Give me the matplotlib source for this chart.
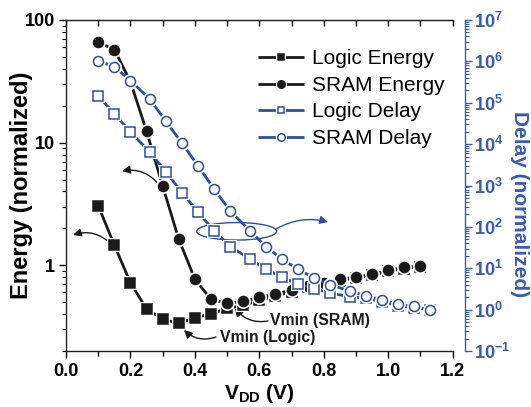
import matplotlib
matplotlib.use('Agg')
import numpy as np
import matplotlib.pyplot as plt
from matplotlib.patches import Ellipse
from matplotlib.ticker import LogLocator, FixedLocator, NullFormatter, MultipleLocator, FuncFormatter
from matplotlib.legend_handler import HandlerTuple

plt.rcParams['font.family'] = ['Liberation Sans', 'DejaVu Sans']
plt.rcParams['font.weight'] = 'bold'
plt.rcParams['mathtext.fontset'] = 'custom'
plt.rcParams['mathtext.rm'] = 'Liberation Sans'
plt.rcParams['mathtext.bf'] = 'Liberation Sans:bold'
plt.rcParams['mathtext.it'] = 'Liberation Sans:italic'

# ---------------- data ----------------
vdd_energy = [0.10, 0.15, 0.20, 0.25, 0.30, 0.35, 0.40, 0.45, 0.50, 0.55, 0.60,
              0.65, 0.70, 0.75, 0.80, 0.85, 0.90, 0.95, 1.00, 1.05, 1.10]
logic_energy = [3.06, 1.46, 0.72, 0.44, 0.364, 0.336, 0.373, 0.402, 0.445, 0.47, 0.52,
                0.56, 0.61, 0.66, 0.70, 0.75, 0.79, 0.83, 0.89, 0.94, 0.97]
sram_energy = [65.8, 57.3, 31.4, 12.4, 4.43, 1.63, 0.77, 0.527, 0.489, 0.508, 0.547,
               0.582, 0.628, 0.677, 0.72, 0.771, 0.80, 0.843, 0.908, 0.962, 0.985]

vdd_delay = [0.10, 0.15, 0.20, 0.26, 0.31, 0.36, 0.41, 0.46, 0.51, 0.57, 0.62,
             0.67, 0.72, 0.77, 0.82, 0.88, 0.93, 0.98, 1.03, 1.08, 1.13]
logic_delay = [1.44e5, 5.46e4, 1.94e4, 6.48e3, 2.13e3, 675, 226, 80, 33.4, 16.9, 9.5,
               6.1, 4.13, 3.24, 2.5, 2.07, 1.89, 1.57, 1.24, 1.12, 0.99]
sram_delay = [1.02e6, 7.45e5, 3.42e5, 1.22e5, 3.57e4, 1.05e4, 2.97e3, 815, 239, 81.5, 33.4,
              16.6, 9.5, 5.77, 3.97, 2.84, 2.15, 1.73, 1.36, 1.19, 0.99]

series_labels = ['Logic Energy', 'SRAM Energy', 'Logic Delay', 'SRAM Delay']
x_ticks = [0.0, 0.2, 0.4, 0.6, 0.8, 1.0, 1.2]
energy_ticks = [1, 10, 100]

BLACK = '#1a1a1a'
BLUE = '#2c4fa3'
AXBLUE = '#3a5cb0'

fig = plt.figure(figsize=(5.31, 4.07), dpi=100)
ax = fig.add_axes([66/531, 1-351/407, (452.7-66)/531, (351-20)/407])
ax2 = ax.twinx()
ax2.patch.set_visible(False)


def series(a, x, y, marker, color, ms, filled, z):
    ln, = a.plot(x, y, '-', color=color, lw=2.0, zorder=z, solid_capstyle='butt')
    halo, = a.plot(x, y, linestyle='none', marker=marker, ms=ms + 3.5,
                   mfc='white', mec='white', mew=0, zorder=z + 0.1)
    mk, = a.plot(x, y, linestyle='none', marker=marker, ms=ms,
                 mfc=color if filled else 'white', mec=color, mew=1.1, zorder=z + 0.2)
    return (ln, halo, mk)


h1 = series(ax, vdd_energy, logic_energy, 's', BLACK, 6.5, True, 3)
h2 = series(ax, vdd_energy, sram_energy, 'o', BLACK, 7.2, True, 4)
h3 = series(ax2, vdd_delay, logic_delay, 's', BLUE, 6.7, False, 3)
h4 = series(ax2, vdd_delay, sram_delay, 'o', BLUE, 7.2, False, 4)

# axes scales
ax.set_xlim(0.0, 1.2)
ax.set_yscale('log')
ax.set_ylim(0.2, 100)
ax2.set_yscale('log')
ax2.set_ylim(1e-1, 1e7)

# x ticks
ax.xaxis.set_major_locator(FixedLocator(x_ticks))
ax.xaxis.set_minor_locator(MultipleLocator(0.1))
ax.xaxis.set_major_formatter(FuncFormatter(lambda v, p: f'{v:.1f}'))
ax.tick_params(axis='x', which='major', direction='out', length=5, width=1, labelsize=13, pad=4)
ax.tick_params(axis='x', which='minor', direction='out', length=3.5, width=1)

sec = ax.secondary_xaxis('top')
sec.xaxis.set_major_locator(FixedLocator(x_ticks))
sec.xaxis.set_minor_locator(MultipleLocator(0.1))
sec.tick_params(axis='x', which='both', direction='in', length=4.5, width=1, labeltop=False)
sec.spines['top'].set_color('#222222')

# left y ticks
ax.yaxis.set_major_locator(FixedLocator(energy_ticks))
ax.yaxis.set_major_formatter(FuncFormatter(lambda v, p: f'{v:g}'))
ax.yaxis.set_minor_locator(LogLocator(base=10, subs=np.arange(2, 10), numticks=20))
ax.yaxis.set_minor_formatter(NullFormatter())
ax.tick_params(axis='y', which='major', direction='out', length=5, width=1, labelsize=13, pad=3)
ax.tick_params(axis='y', which='minor', direction='out', length=3, width=0.8)

for s in ['left', 'bottom', 'top']:
    ax.spines[s].set_color('#222222')
    ax.spines[s].set_linewidth(1.0)
ax.spines['right'].set_visible(False)

# right y axis
for s in ['left', 'bottom', 'top']:
    ax2.spines[s].set_visible(False)
ax2.spines['right'].set_position(('outward', 8.6))
ax2.spines['right'].set_color(AXBLUE)
ax2.spines['right'].set_linewidth(1.0)
ax2.yaxis.set_major_locator(LogLocator(base=10, numticks=20))
ax2.yaxis.set_major_formatter(FuncFormatter(lambda v, p: r'$\mathbf{10^{%d}}$' % int(round(np.log10(v)))))
ax2.yaxis.set_minor_locator(LogLocator(base=10, subs=np.arange(2, 10), numticks=20))
ax2.yaxis.set_minor_formatter(NullFormatter())
ax2.tick_params(axis='y', which='major', direction='out', length=5, width=1, colors=AXBLUE,
                labelsize=13, pad=2)
ax2.tick_params(axis='y', which='minor', direction='out', length=3, width=0.8, colors=AXBLUE)

# labels (positions set explicitly in figure coordinates)
ax.set_ylabel('Energy (normalized)', fontsize=17, fontweight='bold', va='center')
ax.yaxis.set_label_coords(22/531, 1 - 185/407, transform=fig.transFigure)
ax2.set_ylabel('Delay (normalized)', fontsize=15, fontweight='bold', color=AXBLUE,
               rotation=270, va='center')
ax2.yaxis.set_label_coords(519/531, 1 - 204/407, transform=fig.transFigure)
ax.set_xlabel(r'$\mathbf{V_{DD}}$ (V)', fontsize=15, fontweight='bold', labelpad=1)

# legend
leg = ax2.legend([h1, h2, h3, h4], series_labels,
                 handler_map={tuple: HandlerTuple(ndivide=1)},
                 loc='upper left', bbox_to_anchor=(248/531, 1-39/407),
                 bbox_transform=fig.transFigure, frameon=False,
                 prop={'size': 15, 'weight': 'normal'}, handlelength=2.2,
                 handletextpad=0.35, labelspacing=0.36, borderpad=0, markerscale=0.75)


def fx(px):
    return (px - 66) / 386.7


def fy(py):
    return (351 - py) / 331


# annotations (axes-fraction positions)
arrow_k = dict(arrowstyle='-|>', color=BLACK, lw=1.0, mutation_scale=12, shrinkA=0, shrinkB=0)
ax.annotate('', xy=(fx(122), fy(171)), xytext=(fx(160), fy(186)), xycoords='axes fraction',
            arrowprops=dict(connectionstyle='arc3,rad=0.3', **arrow_k))
ax.annotate('', xy=(fx(73), fy(235)), xytext=(fx(111), fy(244)), xycoords='axes fraction',
            arrowprops=dict(connectionstyle='arc3,rad=0.3', **arrow_k))

ax.add_patch(Ellipse((fx(236.7), fy(231.3)), 80/386.7, 17.5/331, transform=ax.transAxes,
                     fill=False, edgecolor=BLUE, lw=1.0, zorder=10))
ax2.annotate('', xy=(fx(328), fy(222)), xytext=(fx(276), fy(229)), xycoords='axes fraction',
             arrowprops=dict(arrowstyle='-|>', color=BLUE, lw=1.0, mutation_scale=12,
                             shrinkA=0, shrinkB=0, connectionstyle='arc3,rad=-0.2'))

ax.annotate('', xy=(fx(235), fy(308)), xytext=(fx(268), fy(321)), xycoords='axes fraction',
            arrowprops=dict(connectionstyle='arc3,rad=-0.3', **arrow_k))
ax.annotate('', xy=(fx(184), fy(330)), xytext=(fx(216), fy(337)), xycoords='axes fraction',
            arrowprops=dict(connectionstyle='arc3,rad=-0.3', **arrow_k))
ax.text(fx(270), fy(321), 'Vmin (SRAM)', transform=ax.transAxes, fontsize=11.3,
        fontweight='bold', va='center', ha='left', color=BLACK)
ax.text(fx(220), fy(337.5), 'Vmin (Logic)', transform=ax.transAxes, fontsize=11.3,
        fontweight='bold', va='center', ha='left', color=BLACK)

fig.savefig('out.png', dpi=100)
